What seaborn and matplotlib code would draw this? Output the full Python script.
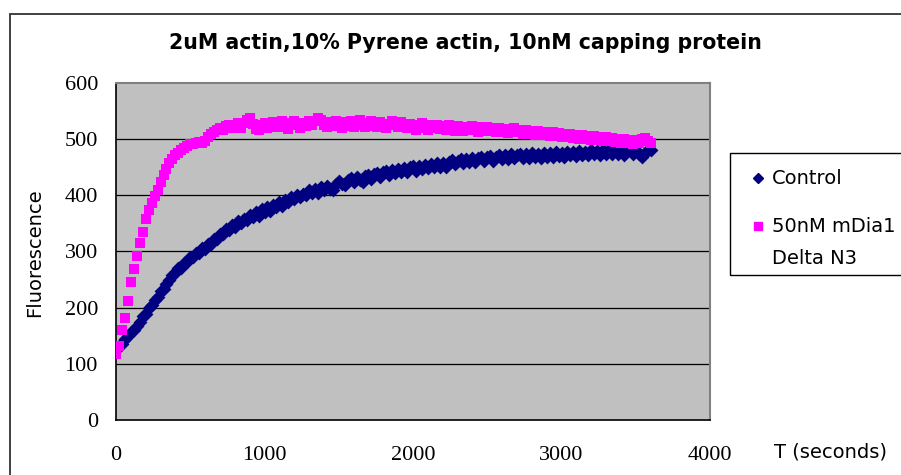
import numpy as np
import pandas as pd
import matplotlib
matplotlib.use("Agg")
import matplotlib.pyplot as plt
from matplotlib.patches import Rectangle
from matplotlib.lines import Line2D
import seaborn as sns

# Pyrene-actin polymerisation, readings every 20 s from 0 to 3600 s
time_s = np.arange(0, 3601, 20)

control = [
    125, 131, 136, 144, 149, 156, 160, 168, 174, 185,
    189, 199, 204, 214, 219, 229, 234, 242, 249, 258,
    261, 270, 271, 280, 281, 290, 290, 298, 297, 306,
    304, 313, 314, 322, 323, 332, 331, 340, 338, 347,
    344, 354, 351, 358, 356, 365, 361, 371, 363, 375,
    370, 379, 372, 382, 379, 388, 381, 391, 389, 397,
    393, 401, 397, 403, 400, 409, 404, 411, 404, 414,
    409, 417, 412, 410, 420, 425, 421, 418, 428, 430,
    423, 432, 427, 424, 434, 436, 429, 438, 440, 432,
    442, 444, 437, 445, 439, 447, 442, 449, 441, 450,
    452, 444, 453, 447, 454, 448, 456, 450, 457, 451,
    458, 450, 460, 463, 455, 462, 464, 457, 465, 459,
    467, 460, 466, 469, 461, 468, 470, 462, 469, 472,
    464, 471, 465, 473, 466, 472, 474, 466, 473, 467,
    475, 468, 474, 466, 476, 469, 475, 468, 477, 470,
    476, 469, 478, 471, 477, 470, 479, 472, 478, 471,
    480, 473, 479, 472, 481, 474, 480, 473, 481, 474,
    480, 472, 479, 481, 474, 480, 473, 468, 476, 481,
    480,
]

mdia1 = [
    118, 132, 160, 182, 212, 245, 268, 292, 316, 334,
    358, 374, 386, 398, 410, 424, 436, 447, 457, 465,
    471, 476, 480, 484, 488, 491, 492, 494, 495, 494,
    497, 503, 510, 512, 516, 519, 516, 523, 525, 519,
    526, 528, 520, 529, 534, 537, 527, 518, 517, 525,
    529, 519, 527, 531, 521, 528, 532, 522, 518, 528,
    533, 525, 520, 529, 524, 532, 526, 533, 537, 535,
    526, 522, 530, 524, 533, 526, 520, 530, 524, 532,
    522, 528, 534, 526, 521, 529, 533, 524, 522, 530,
    527, 520, 527, 532, 526, 522, 530, 524, 519, 527,
    522, 516, 525, 528, 520, 517, 525, 519, 526, 518,
    524, 517, 525, 520, 515, 523, 518, 514, 522, 516,
    523, 516, 513, 521, 515, 522, 514, 520, 513, 519,
    512, 518, 511, 517, 519, 512, 517, 510, 516, 509,
    515, 508, 514, 507, 513, 509, 505, 512, 506, 511,
    504, 510, 503, 509, 502, 508, 501, 507, 500, 506,
    499, 505, 498, 504, 496, 503, 497, 502, 495, 501,
    494, 500, 493, 499, 492, 498, 494, 501, 502, 496,
    494,
]

series_names = ["Control", "50nM mDia1 Delta N3"]
legend_labels = ["Control", "50nM mDia1", "Delta N3"]
x_ticks = [0, 1000, 2000, 3000, 4000]
y_ticks = [0, 100, 200, 300, 400, 500, 600]

assert len(control) == len(time_s) and len(mdia1) == len(time_s)

df = pd.DataFrame({
    "time": np.concatenate([time_s, time_s]),
    "fluorescence": control + mdia1,
    "series": [series_names[0]] * len(time_s) + [series_names[1]] * len(time_s),
})

navy = "#000080"
magenta = "#FF00FF"

sns.set_theme(style="white")
plt.rcParams["font.family"] = ["DejaVu Sans"]
plt.rcParams["text.color"] = "black"
plt.rcParams["axes.labelcolor"] = "black"
plt.rcParams["xtick.color"] = "black"
plt.rcParams["ytick.color"] = "black"

W, H = 901, 475
fig = plt.figure(figsize=(W / 100, H / 100), dpi=100)
ax = fig.add_axes([116 / W, 1 - 420 / H, (710 - 116) / W, (420 - 83) / H])
ax.set_facecolor("#C0C0C0")

sns.scatterplot(
    data=df[df["series"] == series_names[0]], x="time", y="fluorescence",
    marker="D", color=navy, s=50, linewidth=0, legend=False, ax=ax, zorder=3,
)
sns.scatterplot(
    data=df[df["series"] == series_names[1]], x="time", y="fluorescence",
    marker="s", color=magenta, s=42, linewidth=0, legend=False, ax=ax, zorder=4,
)

ax.set_xlim(0, 4000)
ax.set_ylim(0, 600)
ax.set_xticks(x_ticks)
ax.set_yticks(y_ticks)
ax.set_xlabel("")
serif = {"family": "Liberation Serif", "size": 16}
ax.set_xticklabels([str(v) for v in x_ticks], fontdict=serif)
ax.set_yticklabels([str(v) for v in y_ticks], fontdict=serif)
ax.tick_params(axis="both", direction="in", length=4, width=1, color="black",
               labelcolor="black")
ax.tick_params(axis="x", pad=19)
ax.tick_params(axis="y", pad=13)

for v in y_ticks[1:-1]:
    ax.axhline(v, color="black", lw=0.9, zorder=1)

for side in ["left", "bottom"]:
    ax.spines[side].set_color("black")
    ax.spines[side].set_linewidth(1.2)
for side in ["top", "right"]:
    ax.spines[side].set_color("#808080")
    ax.spines[side].set_linewidth(1.5)

ax.set_ylabel("Fluorescence", fontsize=14, va="center", color="black")
ax.yaxis.set_label_coords((35 - 116) / 594, (420 - 253) / 337)

fig.text(465 / W, 1 - 43 / H, "2uM actin,10% Pyrene actin, 10nM capping protein",
         ha="center", va="center", fontsize=14.8, fontweight="bold", color="black")
fig.text(831 / W, 1 - 452 / H, "T (seconds)", ha="center", va="center", fontsize=14,
         color="black")

# outer chart frame
fig.add_artist(Rectangle((10 / W, -0.2), 1.2, 1.2 - 14 / H, transform=fig.transFigure,
                         fill=False, edgecolor="#333333", lw=1.3))

# legend box
fig.add_artist(Rectangle((730 / W, 1 - 275 / H), 0.5, 122 / H, transform=fig.transFigure,
                         fill=False, edgecolor="black", lw=1.0))
fig.add_artist(Line2D([758 / W], [1 - 178 / H], transform=fig.transFigure,
                      marker="D", color=navy, markersize=5.5, linestyle="none"))
fig.add_artist(Line2D([758 / W], [1 - 226 / H], transform=fig.transFigure,
                      marker="s", color=magenta, markersize=5.5, linestyle="none"))
for label, ypx in zip(legend_labels, [178, 226, 259]):
    fig.text(772 / W, 1 - ypx / H, label, ha="left", va="center", fontsize=14,
             color="black")

fig.savefig("out.png", dpi=100)
